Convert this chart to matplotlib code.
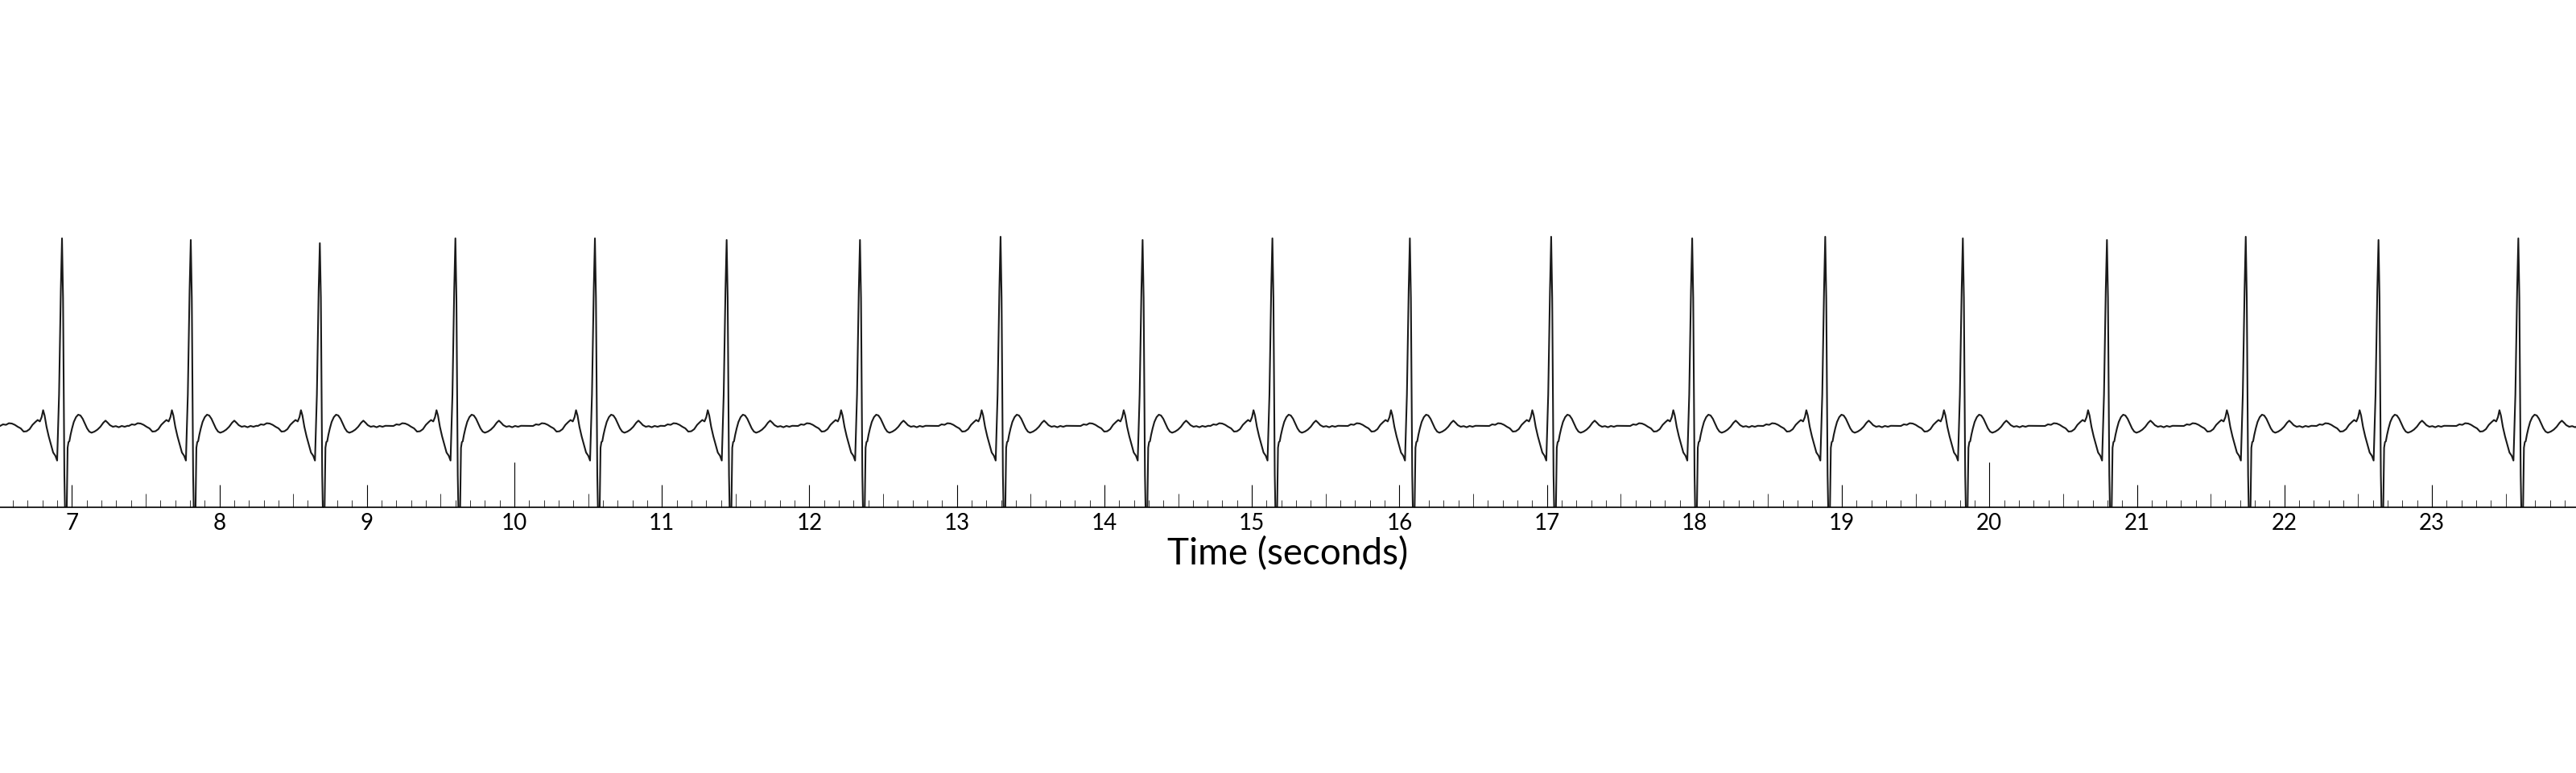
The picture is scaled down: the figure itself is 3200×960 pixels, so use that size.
import matplotlib
matplotlib.use("Agg")
import matplotlib.pyplot as plt
from matplotlib.ticker import FixedLocator
import numpy as np

r_times = [6.933, 7.806, 8.681, 9.600, 10.546, 11.439, 12.343, 13.296, 14.259,
           15.139, 16.071, 17.029, 17.985, 18.887, 19.820, 20.797, 21.738,
           22.638, 23.586]
r_heights = [1.17, 1.16, 1.14, 1.17, 1.17, 1.16, 1.16, 1.18, 1.16, 1.17,
             1.17, 1.18, 1.17, 1.18, 1.17, 1.16, 1.18, 1.16, 1.17]

# one beat: time offset from the R peak (s) and level (mV)
beat_offsets = [-0.420, -0.400, -0.380, -0.360, -0.340, -0.320, -0.300, -0.280,
                -0.260, -0.240, -0.220, -0.200, -0.180, -0.165, -0.150, -0.138,
                -0.128, -0.118, -0.105, -0.090, -0.075, -0.060, -0.045, -0.033,
                -0.020, -0.008, 0.000, 0.007, 0.016, 0.023, 0.030, 0.038,
                0.044, 0.050, 0.058, 0.068, 0.080, 0.095, 0.110, 0.125,
                0.140, 0.155, 0.170, 0.185, 0.200, 0.220, 0.240, 0.260,
                0.280, 0.295, 0.310, 0.325, 0.345, 0.365, 0.385, 0.405,
                0.425, 0.445]
beat_mv = [0.005, 0.015, 0.012, 0.022, 0.020, 0.012, 0.000, -0.010,
           -0.030, -0.028, -0.015, 0.012, 0.030, 0.042, 0.033, 0.060,
           0.103, 0.070, 0.000, -0.060, -0.110, -0.160, -0.180, -0.210,
           0.200, 0.850, None, 0.800, -0.300, -0.650, -0.650, -0.130,
           -0.095, -0.090, -0.050, -0.010, 0.030, 0.060, 0.075, 0.070,
           0.050, 0.020, -0.010, -0.030, -0.037, -0.030, -0.018, 0.000,
           0.025, 0.038, 0.025, 0.010, 0.000, 0.004, -0.003, 0.005,
           0.000, 0.006]

major_ticks = list(range(7, 24))
minor_ticks = [round(7 + 0.1 * k, 1) for k in range(-4, 170)]

t_all = []
v_all = []
for rt, rh in zip(r_times, r_heights):
    for off, mv in zip(beat_offsets, beat_mv):
        t_all.append(rt + off)
        v_all.append(rh if mv is None else mv)

fig = plt.figure(figsize=(32, 9.6), dpi=100)
ax = fig.add_axes([0, 330 / 960, 1, 350 / 960])
ax.plot(t_all, v_all, color="#1a1a1a", linewidth=1.5)

ax.set_xlim(6.5126, 23.977)
ax.set_ylim(-0.5, 1.25)

for side in ["top", "left", "right"]:
    ax.spines[side].set_visible(False)
ax.spines["bottom"].set_linewidth(1.2)
ax.set_yticks([])

ax.xaxis.set_major_locator(FixedLocator(major_ticks))
ax.xaxis.set_minor_locator(FixedLocator([m for m in minor_ticks if abs(m - round(m)) > 0.01]))
ax.set_xticklabels([str(t) for t in major_ticks], family="Lato", fontsize=20)
ax.tick_params(axis="x", which="major", direction="in", length=20, width=0.8, pad=5)
ax.tick_params(axis="x", which="minor", direction="in", length=6.5, width=0.7,
               color="#333333")

# longer marks at the half seconds and at every ten seconds
for tick, loc in zip(ax.xaxis.get_minor_ticks(), ax.xaxis.get_minorticklocs()):
    if abs(loc - round(loc) - 0.5) < 0.01 or abs(loc - round(loc) + 0.5) < 0.01:
        tick.tick1line.set_markersize(12.2)
for tick, loc in zip(ax.xaxis.get_major_ticks(), major_ticks):
    if loc % 10 == 0:
        tick.tick1line.set_markersize(40.3)

ax.set_xlabel("Time (seconds)", family="Lato", fontsize=33, labelpad=2)

fig.savefig("out.png", dpi=100, facecolor="white")
